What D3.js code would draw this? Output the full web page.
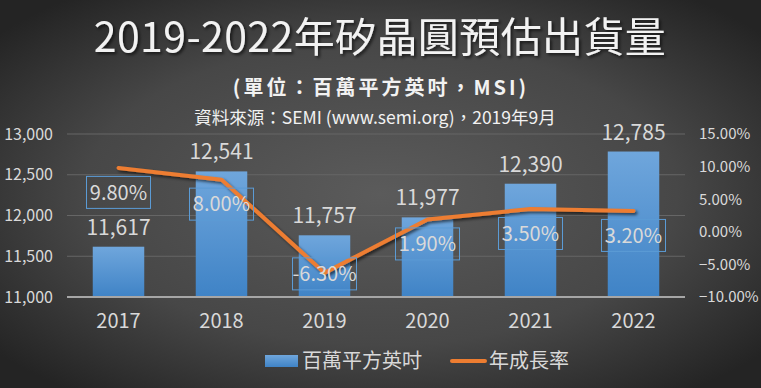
<!DOCTYPE html>
<html lang="zh-Hant">
<head>
    <meta charset="UTF-8" />
    <title>2019-2022年矽晶圓預估出貨量</title>
    <script src="https://d3js.org/d3.v7.min.js"></script>
    <style>
        body { margin: 0; background: #333; }
        svg { display: block; }
        text { font-family: "Noto Sans CJK TC", "Noto Sans", sans-serif; }
    </style>
</head>
<body>
    <script>
        // data
        var years = ["2017", "2018", "2019", "2020", "2021", "2022"];
        var shipments = [11617, 12541, 11757, 11977, 12390, 12785];
        var growth = [9.8, 8.0, -6.3, 1.9, 3.5, 3.2];
        var leftTicks = [11000, 11500, 12000, 12500, 13000];
        var rightTicks = [-10, -5, 0, 5, 10, 15];

        var w = 761;
        var h = 388;
        var plotL = 67, plotR = 685, plotT = 134, plotB = 297;

        var svg = d3.select("body").append("svg")
            .attr("width", w)
            .attr("height", h);

        var defs = svg.append("defs");

        var bg = defs.append("radialGradient").attr("id", "bg")
            .attr("cx", "50%").attr("cy", "50%").attr("r", "65%");
        bg.append("stop").attr("offset", "0%").attr("stop-color", "#5b5b5b");
        bg.append("stop").attr("offset", "60%").attr("stop-color", "#474747");
        bg.append("stop").attr("offset", "100%").attr("stop-color", "#242424");

        var barGrad = defs.append("linearGradient").attr("id", "barGrad")
            .attr("x1", 0).attr("y1", 0).attr("x2", 0).attr("y2", 1);
        barGrad.append("stop").attr("offset", "0%").attr("stop-color", "#6fa6dc");
        barGrad.append("stop").attr("offset", "100%").attr("stop-color", "#3f83c6");

        var shadow = defs.append("filter").attr("id", "shadow")
            .attr("x", "-10%").attr("y", "-20%").attr("width", "130%").attr("height", "160%");
        shadow.append("feDropShadow").attr("dx", 2).attr("dy", 2)
            .attr("stdDeviation", 1.5).attr("flood-color", "#000").attr("flood-opacity", 0.6);

        svg.append("rect").attr("width", w).attr("height", h).attr("fill", "url(#bg)");

        // titles
        svg.append("text")
            .attr("x", 380).attr("y", 52)
            .attr("text-anchor", "middle")
            .attr("font-size", "41px")
            .attr("letter-spacing", "0.4px")
            .attr("fill", "#f2f2f2")
            .attr("filter", "url(#shadow)")
            .text("2019-2022年矽晶圓預估出貨量");

        svg.append("text")
            .attr("x", 381).attr("y", 95)
            .attr("text-anchor", "middle")
            .attr("font-size", "20px")
            .attr("font-weight", "bold")
            .attr("letter-spacing", "3px")
            .attr("fill", "#f2f2f2")
            .text("(單位：百萬平方英吋，MSI)");

        svg.append("text")
            .attr("x", 375).attr("y", 124)
            .attr("text-anchor", "middle")
            .attr("font-size", "17.5px")
            .attr("fill", "#f2f2f2")
            .text("資料來源：SEMI (www.semi.org)，2019年9月");

        // scales
        var x = d3.scaleBand().domain(years).range([plotL, plotR]).paddingInner(0.5).paddingOuter(0.25);
        var y = d3.scaleLinear().domain([11000, 13000]).range([plotB, plotT]);
        var y2 = d3.scaleLinear().domain([-10, 15]).range([plotB, plotT]);

        // gridlines
        svg.append("g").selectAll("line")
            .data(leftTicks.slice(1))
            .enter().append("line")
            .attr("x1", plotL).attr("x2", plotR)
            .attr("y1", function (d) { return y(d); })
            .attr("y2", function (d) { return y(d); })
            .attr("stroke", "#666")
            .attr("stroke-width", 1);

        // axes
        var yAxis = d3.axisLeft(y).tickValues(leftTicks).tickSize(0).tickPadding(0)
            .tickFormat(d3.format(","));
        var gy = svg.append("g").attr("transform", "translate(53,0)").call(yAxis);
        gy.select(".domain").remove();
        gy.selectAll("text").attr("font-size", "16px").attr("fill", "#d9d9d9")
            .attr("font-family", "Noto Sans CJK TC");

        var y2Axis = d3.axisRight(y2).tickValues(rightTicks).tickSize(0).tickPadding(0)
            .tickFormat(function (d) { return d3.format(".2f")(d) + "%"; });
        var gy2 = svg.append("g").attr("transform", "translate(699,0)").call(y2Axis);
        gy2.select(".domain").remove();
        gy2.selectAll("text").attr("font-size", "15px").attr("fill", "#d9d9d9")
            .attr("font-family", "Noto Sans CJK TC");

        var xAxis = d3.axisBottom(x).tickSize(0).tickPadding(0);
        var gx = svg.append("g").attr("transform", "translate(0," + (plotB + 17) + ")").call(xAxis);
        gx.select(".domain").remove();
        gx.selectAll("text").attr("font-size", "20px").attr("fill", "#d9d9d9")
            .attr("font-family", "Noto Sans CJK TC");

        // bars
        svg.append("g").selectAll("rect")
            .data(shipments)
            .enter().append("rect")
            .attr("x", function (d, i) { return x(years[i]); })
            .attr("y", function (d) { return y(d); })
            .attr("width", x.bandwidth())
            .attr("height", function (d) { return plotB - y(d); })
            .attr("fill", "url(#barGrad)");

        // baseline
        svg.append("line")
            .attr("x1", plotL).attr("x2", plotR)
            .attr("y1", plotB).attr("y2", plotB)
            .attr("stroke", "#a6a6a6").attr("stroke-width", 2);

        // bar labels
        svg.append("g").selectAll("text")
            .data(shipments)
            .enter().append("text")
            .attr("x", function (d, i) { return x(years[i]) + x.bandwidth() / 2; })
            .attr("y", function (d) { return y(d) - 12; })
            .attr("text-anchor", "middle")
            .attr("font-size", "21px")
            .attr("fill", "#d9d9d9")
            .text(function (d) { return d3.format(",")(d); });

        // growth line
        var line = d3.line()
            .x(function (d, i) { return x(years[i]) + x.bandwidth() / 2; })
            .y(function (d) { return y2(d); });

        svg.append("path")
            .datum(growth)
            .attr("d", line)
            .attr("fill", "none")
            .attr("stroke", "#ed7d31")
            .attr("stroke-width", 4)
            .attr("stroke-linecap", "round")
            .attr("stroke-linejoin", "round")
            .attr("filter", "url(#shadow)");

        // growth labels
        var lbl = svg.append("g").selectAll("g")
            .data(growth)
            .enter().append("g")
            .attr("transform", function (d, i) {
                var cx = x(years[i]) + x.bandwidth() / 2;
                var cy = y2(d) + (d < 0 ? 1 : 24.5);
                return "translate(" + cx + "," + cy + ")";
            });

        lbl.append("rect")
            .attr("x", -32).attr("y", -16)
            .attr("width", 64).attr("height", 32)
            .attr("fill", "none")
            .attr("stroke", "#5b9bd5")
            .attr("stroke-width", 1);

        lbl.append("text")
            .attr("text-anchor", "middle")
            .attr("dy", "0.36em")
            .attr("font-size", "20px")
            .attr("fill", "#d9d9d9")
            .text(function (d) { return d.toFixed(2) + "%"; });

        // legend
        var legend = svg.append("g");
        legend.append("rect")
            .attr("x", 265).attr("y", 355).attr("width", 33).attr("height", 12)
            .attr("fill", "url(#barGrad)");
        legend.append("text")
            .attr("x", 302).attr("y", 368)
            .attr("font-size", "20px").attr("fill", "#d9d9d9")
            .text("百萬平方英吋");
        legend.append("line")
            .attr("x1", 452).attr("x2", 485).attr("y1", 361).attr("y2", 361)
            .attr("stroke", "#ed7d31").attr("stroke-width", 4).attr("stroke-linecap", "round");
        legend.append("text")
            .attr("x", 489).attr("y", 368)
            .attr("font-size", "20px").attr("fill", "#d9d9d9")
            .text("年成長率");
    </script>
</body>
</html>
